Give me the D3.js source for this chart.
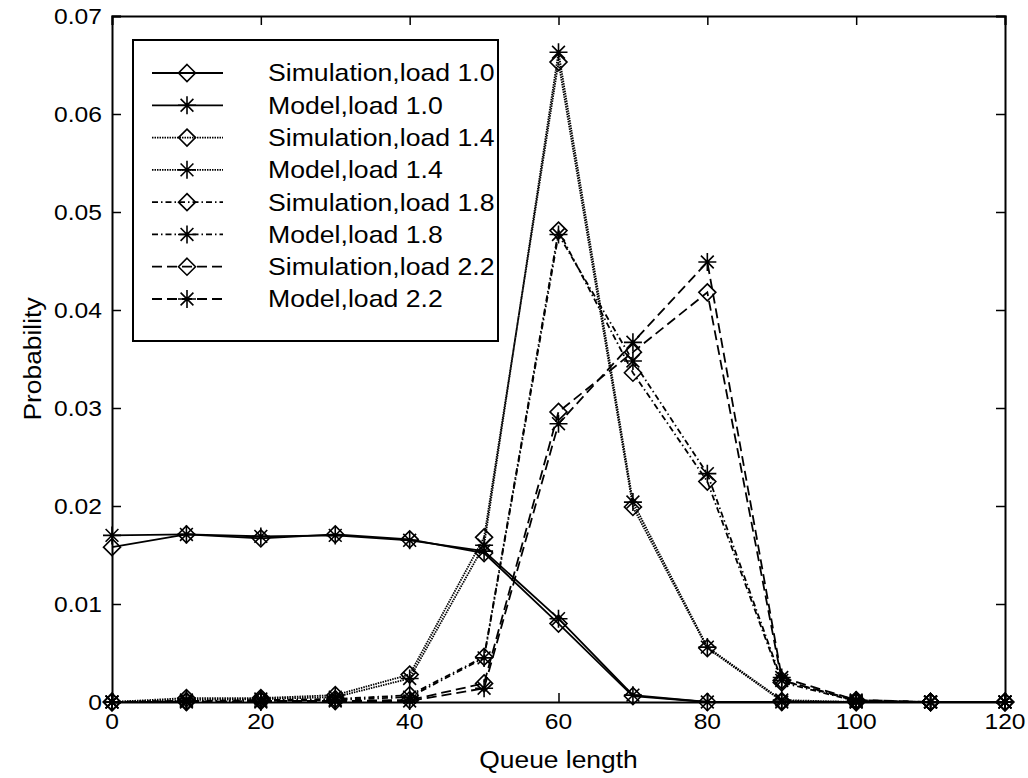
<!DOCTYPE html>
<html>
<head>
<meta charset="utf-8">
<script src="https://cdn.jsdelivr.net/npm/d3@7"></script>
<style>
html,body{margin:0;padding:0;background:#fff;}
svg{display:block;}
text{font-family:"Liberation Sans",Arial,Helvetica,sans-serif;fill:#000;}
</style>
</head>
<body>
<svg id="chart" width="1028" height="778"></svg>
<script>
const queueLength = [0,10,20,30,40,50,60,70,80,90,100,110,120];
const sim10 = [0.0158,0.0171,0.0167,0.0171,0.0166,0.0152,0.0080,0.0006,0,0,0,0,0];
const mod10 = [0.0170,0.0171,0.0169,0.0170,0.0165,0.0154,0.0085,0.0007,0.0000,0,0,0,0];
const sim14 = [0,0.0004,0.0004,0.0007,0.0028,0.0168,0.0653,0.0199,0.0055,0.0001,0,0,0];
const mod14 = [0,0.0002,0.0003,0.0005,0.0024,0.0160,0.0663,0.0204,0.0056,0.0002,0,0,0];
const sim18 = [0,0.0001,0.0002,0.0003,0.0007,0.0046,0.0481,0.0336,0.0225,0.0020,0.0001,0,0];
const mod18 = [0,0.0001,0.0001,0.0002,0.0005,0.0045,0.0477,0.0348,0.0233,0.0022,0.0001,0,0];
const sim22 = [0,0,0.0001,0.0001,0.0002,0.0019,0.0296,0.0357,0.0418,0.0022,0.0002,0,0];
const mod22 = [0,0,0,0.0001,0.0001,0.0014,0.0284,0.0367,0.0449,0.0025,0.0002,0,0];
const seriesNames = ["Simulation,load 1.0","Model,load 1.0","Simulation,load 1.4","Model,load 1.4",
  "Simulation,load 1.8","Model,load 1.8","Simulation,load 2.2","Model,load 2.2"];
const xTicks = [0,20,40,60,80,100,120];
const yTicks = [0,0.01,0.02,0.03,0.04,0.05,0.06,0.07];
const yTickLabels = ["0","0.01","0.02","0.03","0.04","0.05","0.06","0.07"];

const series = [
  {name:seriesNames[0], values:sim10, marker:"diamond", dash:null},
  {name:seriesNames[1], values:mod10, marker:"star", dash:null},
  {name:seriesNames[2], values:sim14, marker:"diamond", dash:"1.5,1"},
  {name:seriesNames[3], values:mod14, marker:"star", dash:"1.5,1"},
  {name:seriesNames[4], values:sim18, marker:"diamond", dash:"6,3,1.5,3"},
  {name:seriesNames[5], values:mod18, marker:"star", dash:"6,3,1.5,3"},
  {name:seriesNames[6], values:sim22, marker:"diamond", dash:"10,5"},
  {name:seriesNames[7], values:mod22, marker:"star", dash:"10,5"}
];

const L=112, R=1005, T=16, B=702;
const x = d3.scaleLinear().domain([0,120]).range([L,R]);
const y = d3.scaleLinear().domain([0,0.07]).range([B,T]);
const svg = d3.select("#chart");

function label(g, txt, px, py, anchor, fs, sx, rot){
  return g.append("text")
    .attr("transform", `translate(${px},${py})` + (rot?` rotate(${rot})`:"") + ` scale(${sx},1)`)
    .attr("text-anchor", anchor)
    .attr("font-size", fs)
    .attr("dy","0.35em")
    .text(txt);
}

// axes
const xAxisB = d3.axisBottom(x).tickValues(xTicks).tickSize(-9).tickFormat("");
const xAxisT = d3.axisTop(x).tickValues(xTicks).tickSize(-9).tickFormat("");
const yAxisL = d3.axisLeft(y).tickValues(yTicks).tickSize(-9).tickFormat("");
const yAxisR = d3.axisRight(y).tickValues(yTicks).tickSize(-9).tickFormat("");
[[xAxisB,`translate(0,${B})`],[xAxisT,`translate(0,${T})`],[yAxisL,`translate(${L},0)`],[yAxisR,`translate(${R},0)`]].forEach(([ax,tr])=>{
  const g = svg.append("g").attr("transform",tr).call(ax);
  g.select(".domain").attr("stroke","#000").attr("stroke-width",2);
  g.selectAll(".tick line").attr("stroke","#000").attr("stroke-width",1.5);
});
// tick labels
const lab = svg.append("g");
xTicks.forEach(v=>label(lab, String(v), x(v), 721, "middle", 22, 1.12));
yTicks.forEach((v,i)=>label(lab, yTickLabels[i], L-10, y(v), "end", 22, 1.12));
label(lab, "Queue length", (L+R)/2, 760, "middle", 24, 1.1);
label(lab, "Probability", 33, (T+B)/2, "middle", 24, 1.1, -90);

// markers
function drawMarker(g, type, cx, cy){
  if(type==="diamond"){
    const r=8.5;
    g.append("path").attr("d",`M${cx},${cy-r}L${cx+r},${cy}L${cx},${cy+r}L${cx-r},${cy}Z`)
      .attr("fill","none").attr("stroke","#000").attr("stroke-width",1.6);
  } else {
    const r=9, d=6.4;
    g.append("path").attr("d",`M${cx-r},${cy}L${cx+r},${cy}M${cx},${cy-r}L${cx},${cy+r}M${cx-d},${cy-d}L${cx+d},${cy+d}M${cx-d},${cy+d}L${cx+d},${cy-d}`)
      .attr("fill","none").attr("stroke","#000").attr("stroke-width",1.6);
  }
}

const line = d3.line().x((d,i)=>x(queueLength[i])).y(d=>y(d));
const plot = svg.append("g");
series.forEach(s=>{
  plot.append("path").datum(s.values).attr("d",line)
    .attr("fill","none").attr("stroke","#000").attr("stroke-width",1.8)
    .attr("stroke-dasharray",s.dash);
  s.values.forEach((v,i)=>drawMarker(plot, s.marker, x(queueLength[i]), y(v)));
});

// legend
const lg = svg.append("g");
lg.append("rect").attr("x",133).attr("y",40).attr("width",365).attr("height",301)
  .attr("fill","#fff").attr("stroke","#000").attr("stroke-width",2);
const rowY = d3.scalePoint().domain(seriesNames).range([73,299]);
series.forEach(s=>{
  const yy = rowY(s.name);
  lg.append("line").attr("x1",152).attr("x2",223).attr("y1",yy).attr("y2",yy)
    .attr("stroke","#000").attr("stroke-width",1.8).attr("stroke-dasharray",s.dash);
  drawMarker(lg, s.marker, 187, yy);
  label(lg, s.name, 268, yy, "start", 24, 1.11);
});
</script>
</body>
</html>
